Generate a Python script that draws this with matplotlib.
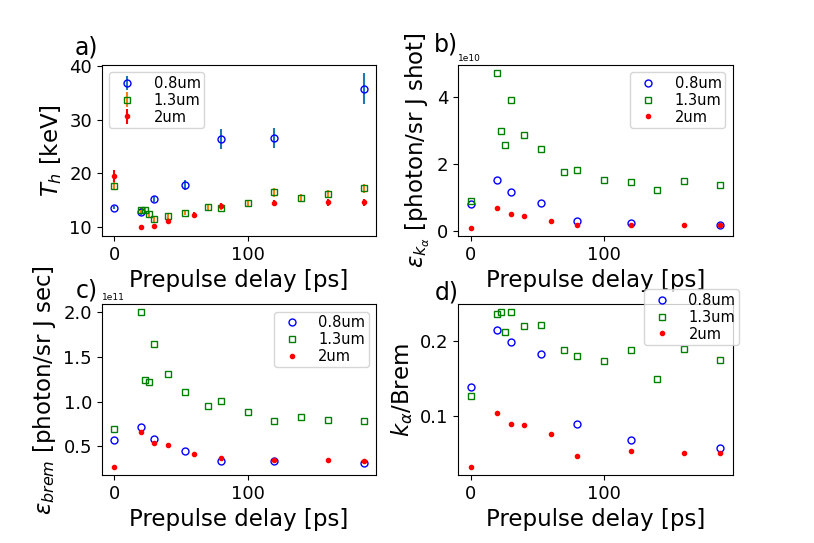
import matplotlib
matplotlib.use("Agg")
import matplotlib.pyplot as plt
from matplotlib.ticker import MultipleLocator

# prepulse delays [ps] for each target thickness
delay_08 = [0, 20, 30, 53, 80, 120, 187]
delay_13 = [0, 20, 23, 26, 30, 40, 53, 70, 80, 100, 120, 140, 160, 187]
delay_2 = [0, 20, 30, 40, 60, 80, 120, 160, 187]

# a) hot electron temperature [keV]
Th_08 = [13.6, 12.8, 15.2, 17.8, 26.4, 26.6, 35.8]
Th_08_err = [0.3, 0.5, 0.6, 0.9, 1.8, 1.8, 2.9]
Th_13 = [17.7, 13.1, 13.1, 12.4, 11.5, 12.0, 12.7, 13.7, 13.6, 14.5, 16.5, 15.5, 16.2, 17.2]
Th_13_err = [0.8, 0.5, 0.5, 0.5, 0.5, 0.5, 0.5, 0.5, 0.5, 0.5, 0.8, 0.6, 0.7, 0.9]
Th_2 = [19.5, 10.1, 10.3, 11.1, 12.3, 13.9, 14.5, 14.6, 14.6]
Th_2_err = [1.1, 0.3, 0.3, 0.4, 0.5, 0.5, 0.6, 0.6, 0.6]

# b) K-alpha yield [photon/sr J shot]
ka_08 = [0.79e10, 1.51e10, 1.15e10, 0.81e10, 0.30e10, 0.23e10, 0.17e10]
ka_13 = [0.89e10, 4.71e10, 2.96e10, 2.56e10, 3.89e10, 2.86e10, 2.43e10,
         1.76e10, 1.80e10, 1.51e10, 1.46e10, 1.21e10, 1.49e10, 1.35e10]
ka_2 = [0.07e10, 0.67e10, 0.48e10, 0.44e10, 0.30e10, 0.16e10, 0.18e10, 0.16e10, 0.16e10]

# c) bremsstrahlung yield [photon/sr J sec]
brem_08 = [0.567e11, 0.712e11, 0.586e11, 0.448e11, 0.340e11, 0.340e11, 0.314e11]
brem_13 = [0.694e11, 2.0e11, 1.244e11, 1.215e11, 1.639e11, 1.304e11, 1.103e11,
           0.947e11, 1.002e11, 0.883e11, 0.783e11, 0.824e11, 0.794e11, 0.779e11]
brem_2 = [0.266e11, 0.660e11, 0.541e11, 0.515e11, 0.418e11, 0.373e11, 0.347e11, 0.344e11, 0.340e11]

# d) K-alpha / Brem ratio
ratio_08 = [0.138, 0.214, 0.198, 0.182, 0.0884, 0.0671, 0.0564]
ratio_13 = [0.126, 0.236, 0.238, 0.2116, 0.238, 0.2196, 0.2209,
            0.1876, 0.1796, 0.1733, 0.1876, 0.1493, 0.1884, 0.1738]
ratio_2 = [0.0311, 0.1036, 0.0889, 0.088, 0.0751, 0.0458, 0.0529, 0.0502, 0.0498]

labels = ["0.8um", "1.3um", "2um"]
leg_kw = dict(fontsize=10.5, labelspacing=0.12, borderpad=0.25)

fig, axs = plt.subplots(2, 2, figsize=(8.14, 5.43), dpi=100)
fig.subplots_adjust(left=0.125, right=0.9, top=0.88, bottom=0.125, wspace=0.3, hspace=0.4)
ax_a, ax_b, ax_c, ax_d = axs.flat

ms = 5
ax_a.errorbar(delay_08, Th_08, yerr=Th_08_err, fmt="o", color="b", mfc="none",
              ms=ms, ecolor="C0", label=labels[0])
ax_a.errorbar(delay_13, Th_13, yerr=Th_13_err, fmt="s", color="g", mfc="none",
              ms=ms, ecolor="C1", label=labels[1])
ax_a.errorbar(delay_2, Th_2, yerr=Th_2_err, fmt=".", color="r", ecolor="r", label=labels[2])
ax_a.set_ylabel("$T_h$ [keV]", fontsize=16.5)
ax_a.legend(loc="upper left", **leg_kw)

def scatter3(ax, y08, y13, y2):
    ax.plot(delay_08, y08, "o", color="b", mfc="none", ms=ms, label=labels[0])
    ax.plot(delay_13, y13, "s", color="g", mfc="none", ms=ms, label=labels[1])
    ax.plot(delay_2, y2, ".", color="r", label=labels[2])

scatter3(ax_b, ka_08, ka_13, ka_2)
ax_b.set_ylabel(r"$\epsilon_{k_\alpha}$ [photon/sr J shot]", fontsize=16.5)
ax_b.legend(loc="upper right", **leg_kw)

scatter3(ax_c, brem_08, brem_13, brem_2)
ax_c.set_ylabel(r"$\epsilon_{brem}$ [photon/sr J sec]", fontsize=16.5)
ax_c.legend(loc="upper right", **leg_kw)

scatter3(ax_d, ratio_08, ratio_13, ratio_2)
ax_d.set_ylabel(r"$k_\alpha$/Brem", fontsize=16.5)
ax_d.legend(loc="upper right", bbox_to_anchor=(1.05, 1.13), **leg_kw)

for ax in axs.flat:
    ax.set_xlabel("Prepulse delay [ps]", fontsize=16.5)
    ax.xaxis.set_major_locator(MultipleLocator(100))
    ax.tick_params(labelsize=13)
    ax.yaxis.get_offset_text().set_fontsize(6.5)

# panel letters
ax_a.text(-0.1, 1.065, "a)", transform=ax_a.transAxes, fontsize=17)
ax_b.text(-0.09, 1.08, "b)", transform=ax_b.transAxes, fontsize=17)
ax_c.text(-0.095, 1.04, "c)", transform=ax_c.transAxes, fontsize=17)
ax_d.text(-0.085, 1.03, "d)", transform=ax_d.transAxes, fontsize=17)

plt.savefig("out.png")
